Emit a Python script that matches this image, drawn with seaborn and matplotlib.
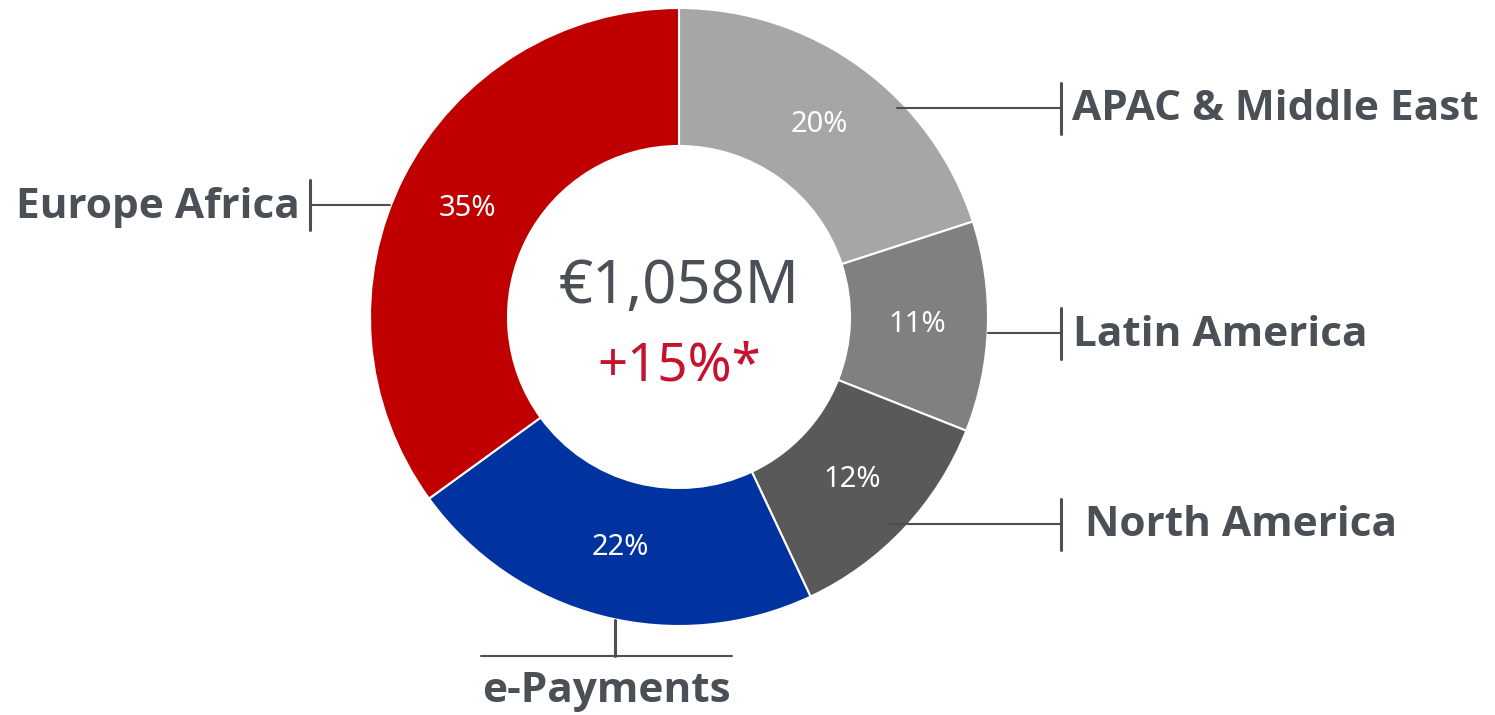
import matplotlib
matplotlib.use("Agg")
import seaborn as sns
import matplotlib.pyplot as plt

# shares of revenue by region (clockwise from 12 o'clock)
regions = ["APAC & Middle East", "Latin America", "North America", "e-Payments", "Europe Africa"]
shares = [20, 11, 12, 22, 35]
total_label = "€1,058M"
growth_label = "+15%*"

sns.set_theme(style="white")
plt.rcParams['font.family'] = ['Noto Sans', 'DejaVu Sans']

palette = sns.color_palette(["#a6a6a6", "#808080", "#595959", "#0033a0", "#c00000"])
text_gray = "#4b5057"
red_text = "#c4122f"

W, H = 1495, 715
fig = plt.figure(figsize=(W / 100, H / 100), dpi=100)
ax = fig.add_axes([0, 0, 1, 1])

# pixel coordinates, y axis pointing down
cx, cy, r_out, r_in = 679, 317, 309, 171
wedges, texts, autotexts = ax.pie(
    shares, colors=palette, startangle=-90, counterclock=True,
    center=(cx, cy), radius=r_out, autopct="%d%%", pctdistance=0.77,
    wedgeprops=dict(width=r_out - r_in, edgecolor="white", linewidth=1.5),
    textprops=dict(color="white", fontsize=21),
)
ax.set_xlim(0, W)
ax.set_ylim(H, 0)
ax.set_aspect("equal")
ax.axis("off")

# center text
ax.text(cx, 287, total_label, ha="center", va="center", fontsize=43, color=text_gray)
ax.text(cx, 367, growth_label, ha="center", va="center", fontsize=38, color=red_text)

# leader lines and region labels
lw_h, lw_v = 1.5, 2.2
lab_kw = dict(fontsize=30.5, fontweight="bold", family=["Open Sans", "DejaVu Sans"],
              color=text_gray, va="center")

# Europe Africa (left)
ax.plot([310, 390], [205, 205], color=text_gray, lw=lw_h)
ax.plot([310, 310], [180, 230], color=text_gray, lw=lw_v)
ax.text(300, 207, regions[4], ha="right", **lab_kw)

# right side labels
right = [(0, 108, 897, 1072), (1, 333, 988, 1073), (2, 524, 889, 1085)]
for i, y, x0, xt in right:
    ax.plot([x0, 1061], [y, y], color=text_gray, lw=lw_h)
    ax.plot([1061, 1061], [y - 25, y + 26], color=text_gray, lw=lw_v)
    ax.text(xt, y + 2, regions[i], ha="left", **lab_kw)

# e-Payments (bottom)
ax.plot([615, 615], [620, 656], color=text_gray, lw=lw_v)
ax.plot([481, 732], [656, 656], color=text_gray, lw=lw_h)
ax.text(606, 691, regions[3], ha="center", **lab_kw)

fig.savefig("out.png", dpi=100)
